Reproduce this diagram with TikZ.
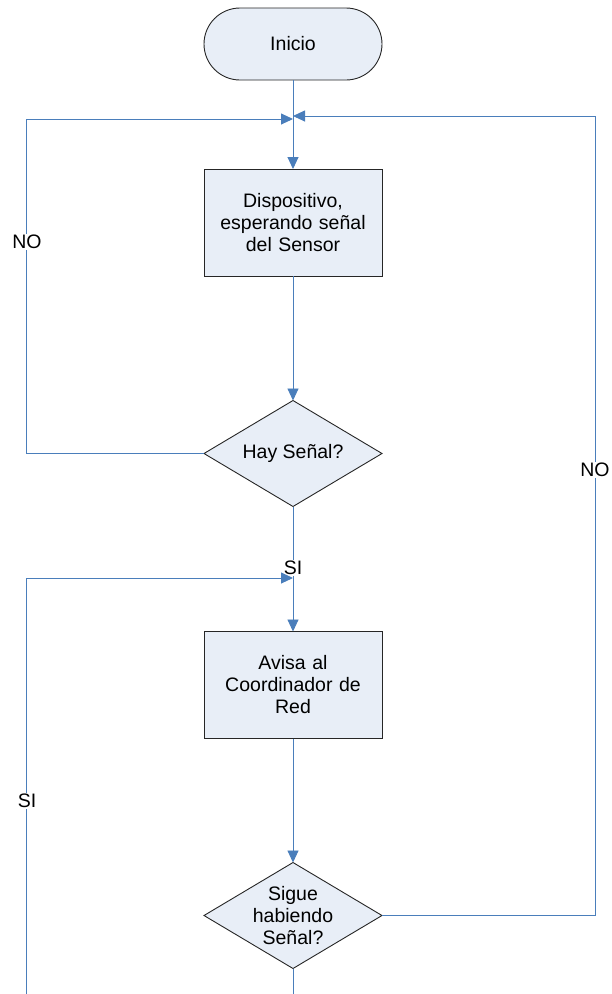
\documentclass[tikz,border=0pt]{standalone}
\usepackage{fontspec}
\setmainfont{Liberation Sans}
\usetikzlibrary{shapes.geometric,arrows.meta}
\definecolor{flowblue}{RGB}{74,126,187}
\definecolor{shapefill}{RGB}{232,238,247}
\begin{document}
\begin{tikzpicture}[x=1pt,y=-1pt,
  every node/.style={font=\fontsize{19.5}{22}\selectfont},
  base/.style={draw=black!85, line width=0.9pt, fill=shapefill, inner sep=0pt, outer sep=0pt},
  terminal/.style={base, rectangle, rounded corners=36pt, minimum width=178pt, minimum height=72pt},
  process/.style={base, rectangle, minimum width=178pt, minimum height=107pt, text width=170pt, align=center},
  decision/.style={base, diamond, minimum width=178pt, minimum height=106pt},
  dtext/.style={align=center, inner sep=0pt},
  flow/.style={draw=flowblue, line width=0.9pt},
  arr/.style={flow, -{Triangle[length=12pt,width=11pt]}},
  lbl/.style={fill=white, inner sep=1pt}]
\useasboundingbox (0,0) rectangle (611,994);

% shapes
\node[terminal] (inicio) at (293,44) {Inicio};
\node[process] (disp) at (293,222.5) {Dispositivo,\\esperando señal\\del Sensor};
\node[decision] (hay) at (293,453.5) {};
\node[dtext] (hayt) at (hay) {Hay Señal?};
\node[process] (avisa) at (293,685) {Avisa al\\Coordinador de\\Red};
\node[decision] (sigue) at (293,915.5) {};
\node[dtext] (siguet) at (sigue) {Sigue\\habiendo\\Señal?};

% junctions and loop corners
\coordinate (jL) at (293,119);
\coordinate (cL) at (26,119);
\coordinate (jR) at (293,116);
\coordinate (cR) at (595.5,116);
\coordinate (j2) at (293,578);
\coordinate (c2) at (26,578);
\coordinate (b1) at (26,994);
\coordinate (b2) at (293,994);

% main flow
\draw[arr] (inicio.south) -- (disp.north);
\draw[arr] (disp.south) -- (hay.north);
\draw[arr] (hay.south) -- (avisa.north);
\draw[arr] (avisa.south) -- (sigue.north);
\draw[flow] (sigue.south) -- (b2);

% NO loop back to waiting
\draw[arr] (hay.west) -| (cL) -- (jL);
\node[lbl] (no1) at (27,242) {NO};

% NO loop from the second decision
\draw[arr] (sigue.east) -| (cR) -- (jR);
\node[lbl] (no2) at (595,470) {NO};

% SI branch
\node[lbl] (si1) at (293,568) {SI};
\draw[arr] (b1) -- (c2) -- (j2);
\node[lbl] (si2) at (27,801) {SI};
\end{tikzpicture}
\end{document}
